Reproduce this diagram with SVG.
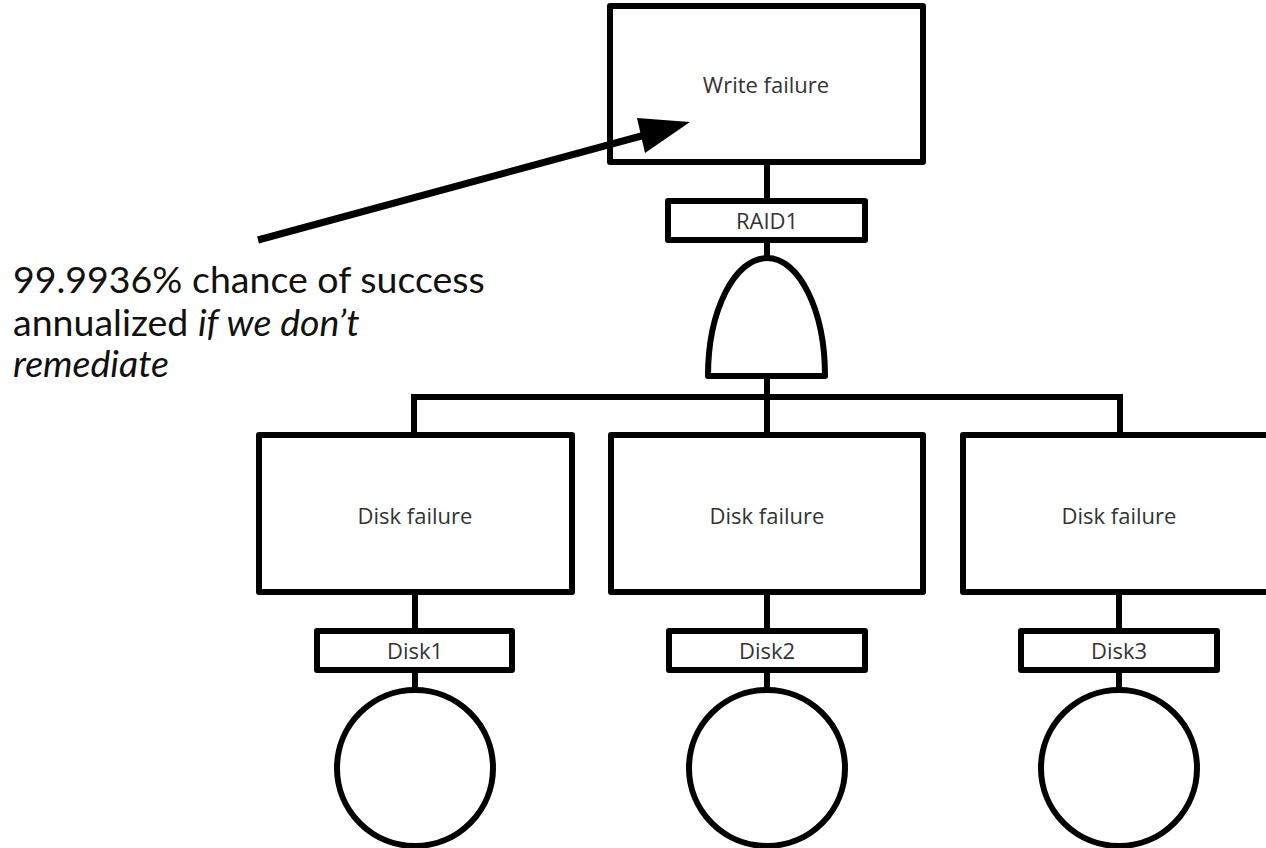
<svg xmlns="http://www.w3.org/2000/svg" width="1266" height="848" viewBox="0 0 1266 848">
  <defs>
    <style>
      .shape { fill: #ffffff; stroke: #000000; stroke-width: 6; stroke-linejoin: round; }
      .wire { fill: none; stroke: #000000; stroke-width: 6; }
      .label { font-family: "Open Sans", "DejaVu Sans", sans-serif; font-size: 22px; fill: #333333; text-anchor: middle; }
      .note { font-family: Lato, "Liberation Sans", sans-serif; font-size: 37.5px; fill: #111111; }
    </style>
  </defs>
  <rect width="1266" height="848" fill="#ffffff"/>

  <!-- connectors -->
  <g id="connectors">
    <path class="wire" d="M767,162 V201 M767,240 V258 M767,376 V435"/>
    <path class="wire" d="M414,397 H1120 M414,394 V435 M1120,394 V435"/>
    <path class="wire" d="M415,592 V631 M415,670 V690"/>
    <path class="wire" d="M767,592 V631 M767,670 V690"/>
    <path class="wire" d="M1119,592 V631 M1119,670 V690"/>
  </g>

  <!-- top event -->
  <g id="write-failure">
    <rect class="shape" x="610" y="6" width="313" height="156"/>
    <text class="label" x="766" y="93">Write failure</text>
  </g>
  <g id="raid1">
    <rect class="shape" x="668" y="201" width="197" height="39"/>
    <text class="label" x="767" y="229">RAID1</text>
  </g>
  <g id="and-gate">
    <path class="shape" d="M708,376 C708,310 735,258 767,258 C799,258 825,310 825,376 Z"/>
  </g>

  <!-- disk 1 -->
  <g id="disk-failure-1">
    <rect class="shape" x="259" y="435" width="313" height="157"/>
    <text class="label" x="415" y="524">Disk failure</text>
  </g>
  <g id="disk1">
    <rect class="shape" x="317" y="631" width="195" height="39"/>
    <text class="label" x="415" y="659">Disk1</text>
  </g>
  <g id="disk1-event">
    <circle class="shape" cx="415" cy="768" r="78"/>
  </g>

  <!-- disk 2 -->
  <g id="disk-failure-2">
    <rect class="shape" x="611" y="435" width="312" height="157"/>
    <text class="label" x="767" y="524">Disk failure</text>
  </g>
  <g id="disk2">
    <rect class="shape" x="669" y="631" width="196" height="39"/>
    <text class="label" x="767" y="659">Disk2</text>
  </g>
  <g id="disk2-event">
    <circle class="shape" cx="767" cy="768" r="78"/>
  </g>

  <!-- disk 3 -->
  <g id="disk-failure-3">
    <rect class="shape" x="963" y="435" width="313" height="157"/>
    <text class="label" x="1119" y="524">Disk failure</text>
  </g>
  <g id="disk3">
    <rect class="shape" x="1021" y="631" width="196" height="39"/>
    <text class="label" x="1119" y="659">Disk3</text>
  </g>
  <g id="disk3-event">
    <circle class="shape" cx="1119" cy="768" r="78"/>
  </g>

  <!-- annotation arrow -->
  <g id="callout-arrow">
    <line x1="258" y1="240" x2="645" y2="135" stroke="#000000" stroke-width="7"/>
    <polygon points="690,122 637,118 645,153" fill="#000000"/>
  </g>
  <g id="callout-text">
    <text class="note" x="13" y="293">99.9936% chance of success</text>
    <text class="note" x="13" y="336">annualized <tspan font-style="italic">if we don’t</tspan></text>
    <text class="note" x="13" y="377" font-style="italic">remediate</text>
  </g>
</svg>
